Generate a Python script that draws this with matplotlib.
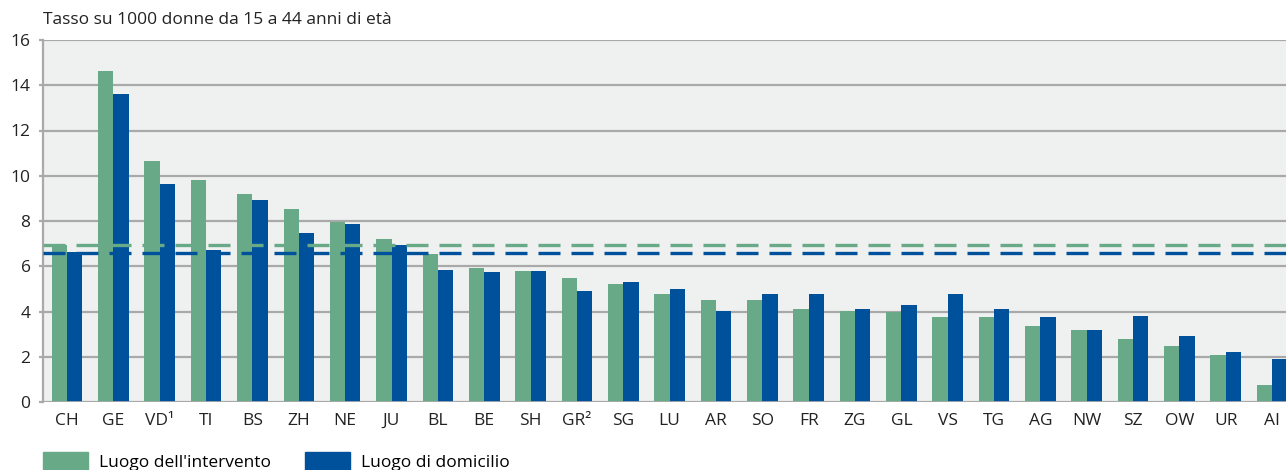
import numpy as np
import matplotlib
matplotlib.use('Agg')
import matplotlib.pyplot as plt
from matplotlib.patches import Patch

plt.rcParams['font.family'] = ['Open Sans', 'DejaVu Sans']

cantoni = ['CH', 'GE', 'VD¹', 'TI', 'BS', 'ZH', 'NE', 'JU', 'BL', 'BE', 'SH', 'GR²', 'SG', 'LU',
           'AR', 'SO', 'FR', 'ZG', 'GL', 'VS', 'TG', 'AG', 'NW', 'SZ', 'OW', 'UR', 'AI']
intervento = [6.93, 14.63, 10.65, 9.81, 9.19, 8.52, 7.96, 7.20, 6.54, 5.92, 5.78, 5.47, 5.21, 4.77,
              4.50, 4.50, 4.10, 4.01, 3.98, 3.75, 3.75, 3.35, 3.17, 2.77, 2.46, 2.06, 0.74]
domicilio = [6.61, 13.61, 9.63, 6.71, 8.92, 7.46, 7.86, 6.93, 5.83, 5.74, 5.78, 4.90, 5.30, 4.99,
             4.01, 4.77, 4.77, 4.10, 4.28, 4.77, 4.10, 3.75, 3.17, 3.80, 2.90, 2.20, 1.89]
media_intervento = 6.93
media_domicilio = 6.58

verde = '#68aa87'
blu = '#00519c'
grigio = '#a9a9a9'

fig = plt.figure(figsize=(12.86, 4.70), dpi=100)
ax = fig.add_axes([43/1286, 1 - 402/470, 1 - 43/1286, 362/470])
ax.set_facecolor('#eff0f0')

x = np.arange(len(cantoni))
w = 0.33
ax.bar(x - w/2, intervento, w, color=verde, zorder=2)
ax.bar(x + w/2, domicilio, w, color=blu, zorder=2)

ax.axhline(media_intervento, color=verde, lw=2.4, ls=(0, (6.6, 3.3)), zorder=3)
ax.axhline(media_domicilio, color=blu, lw=2.4, ls=(0, (6.6, 3.3)), zorder=3)

ax.set_ylim(0, 16)
ax.set_xlim(-0.52, len(cantoni) - 1 + 0.3)
ax.set_yticks(range(0, 17, 2))
ax.yaxis.grid(True, color=grigio, lw=1.6, zorder=1)
ax.set_axisbelow(True)
ax.set_xticks(x)
ax.set_xticklabels(cantoni)
ax.tick_params(axis='x', length=0, pad=8, labelsize=12.5, colors='#222222')
ax.tick_params(axis='y', length=3, width=1.6, color=grigio, pad=6, labelsize=12.5, labelcolor='#222222')

for s in ['top', 'right', 'bottom']:
    ax.spines[s].set_visible(False)
ax.spines['left'].set_color(grigio)
ax.spines['left'].set_linewidth(1.6)
ax.axhline(0, color=grigio, lw=2, zorder=4)

fig.text(43/1286, 1 - 20/470, 'Tasso su 1000 donne da 15 a 44 anni di età', fontsize=12.5,
         va='center', ha='left', color='#222222')

handles = [Patch(color=verde, label="Luogo dell'intervento"),
           Patch(color=blu, label='Luogo di domicilio')]
fig.legend(handles=handles, loc='upper left', bbox_to_anchor=(43/1286, 1 - 452/470), ncol=2,
           frameon=False, fontsize=12.5, borderpad=0, borderaxespad=0, handlelength=2.6,
           handleheight=1.3, handletextpad=0.6, columnspacing=2.0)

fig.savefig('out.png', dpi=100)
